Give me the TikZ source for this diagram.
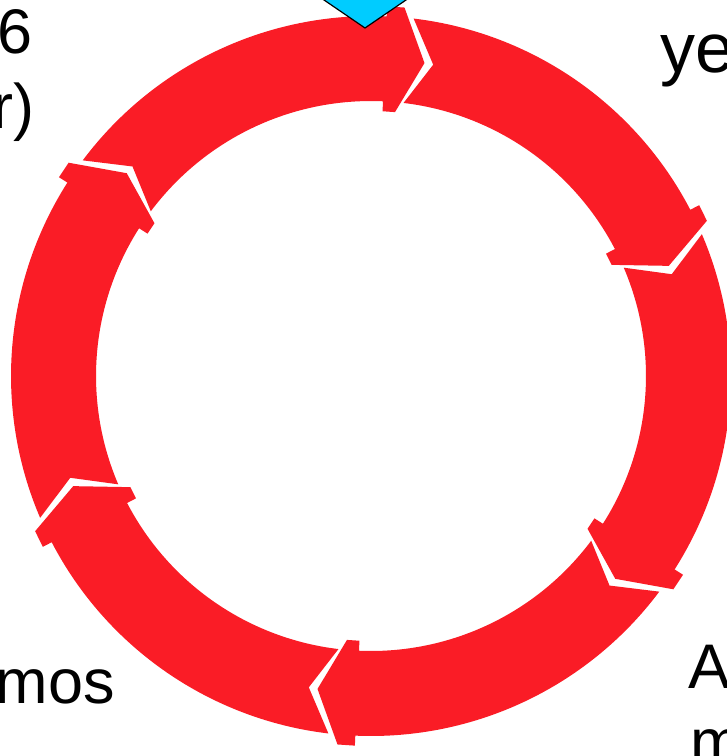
\documentclass[tikz,border=0pt]{standalone}
\usepackage{fontspec}
\setmainfont{Liberation Sans}
\definecolor{ringred}{RGB}{250,28,38}
\definecolor{diacyan}{RGB}{0,204,255}
\begin{document}
\begin{tikzpicture}[x=1pt,y=1pt,
  lbl/.style={font=\fontsize{63}{70}\selectfont, inner sep=0pt, text=black},
  segfill/.style={fill=ringred, draw=none}]
\useasboundingbox (0,0) rectangle (727,-756);
\clip (0,0) rectangle (727,-756);
\fill[white] (0,0) rectangle (727,-756);
\begin{scope}[shift={(371,-376)}]
\def\Ro{360}\def\Ri{275}\def\Rm{317.5}\def\Rob{370}\def\Rib{265}
\foreach \J in {84,24,-36,-96,-156,144}{
  \path[segfill]
    ({\J-0.8}:\Ro pt) -- ({\J-5.3}:\Rm pt) -- ({\J-0.8}:\Ri pt)
    arc[start angle={\J-0.8}, end angle={\J-56.5}, radius=\Ri pt]
    -- ({\J-56.5}:\Rib pt) -- ({\J-59.2}:\Rib pt) -- ({\J-63.7}:\Rm pt)
    -- ({\J-59.2}:\Rob pt) -- ({\J-56.5}:\Rob pt) -- ({\J-56.5}:\Ro pt)
    arc[start angle={\J-56.5}, end angle={\J-0.8}, radius=\Ro pt] -- cycle;
}
\end{scope}
\draw[fill=diacyan, draw=black, line width=1.2pt, line join=miter]
  (365,-28) -- (425,13) -- (365,54) -- (305,13) -- cycle;
\node[lbl, anchor=base east] (t6) at (33,-53) {6};
\node[lbl, anchor=base east] (tr) at (35,-128) {r)};
\node[lbl, font=\fontsize{70}{80}\selectfont, anchor=base west] (tye) at (660,-72) {ye};
\node[lbl, anchor=base east] (tmos) at (115,-703) {mos};
\node[lbl, anchor=base west] (tA) at (688,-688) {A};
\node[lbl, anchor=base west] (tm) at (690,-763) {m};
\end{tikzpicture}
\end{document}
